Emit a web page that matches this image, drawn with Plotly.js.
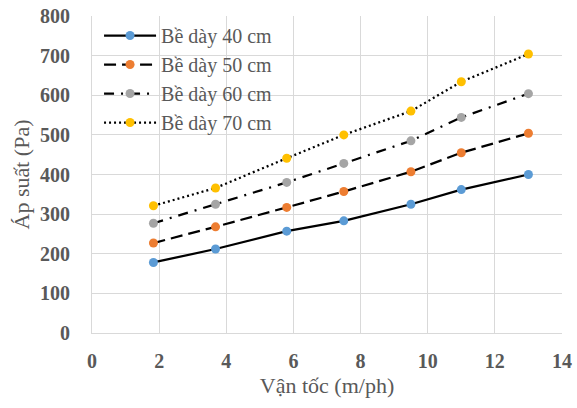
<!DOCTYPE html>
<html>
<head>
<meta charset="utf-8">
<script src="https://cdn.plot.ly/plotly-3.0.1.min.js"></script>
<style>html,body{margin:0;padding:0;background:#fff;}#chart{width:577px;height:408px;}</style>
</head>
<body>
<div id="chart"></div>
<script>
var velocity = [1.83, 3.68, 5.8, 7.5, 9.5, 11, 13];
var p40 = [178, 212, 257, 283, 325, 362, 400];
var p50 = [227, 268, 317, 357, 407, 455, 504];
var p60 = [277, 325, 380, 428, 485, 544, 604];
var p70 = [321, 366, 441, 500, 560, 634, 704];
var seriesNames = ['Bề dày 40 cm', 'Bề dày 50 cm', 'Bề dày 60 cm', 'Bề dày 70 cm'];
var xTitle = 'Vận tốc (m/ph)';
var yTitle = 'Áp suất (Pa)';

var markerColors = ['#5B9BD5', '#ED7D31', '#A5A5A5', '#FFC000'];
var dashes = ['solid', '12px,6px', '10px,7px,2px,7px', '2px,3px'];
var ys = [p40, p50, p60, p70];
var traces = ys.map(function (y, i) {
  return {
    x: velocity, y: y, name: seriesNames[i], type: 'scatter', mode: 'lines+markers',
    line: {color: '#000000', width: 2.25, dash: dashes[i]},
    marker: {color: markerColors[i], size: 9}
  };
});
var font = 'Liberation Serif';
var layout = {
  width: 577, height: 408,
  margin: {l: 92, r: 15, t: 16, b: 75},
  paper_bgcolor: '#fff', plot_bgcolor: '#fff',
  font: {family: font, color: '#595959', size: 20},
  showlegend: true,
  legend: {x: 0.015, y: 1.0, xanchor: 'left', yanchor: 'top', bgcolor: 'rgba(0,0,0,0)',
    font: {family: font, size: 20, color: '#595959'}, tracegroupgap: 0, itemwidth: 52},
  xaxis: {range: [0, 14], dtick: 2, tick0: 0, showgrid: true, gridcolor: '#D9D9D9', gridwidth: 1,
    zeroline: false, showline: true, linecolor: '#D9D9D9', mirror: false,
    ticks: '', ticklabelstandoff: 10,
    tickfont: {family: font, size: 20, color: '#595959', weight: 'bold'},
    title: {text: xTitle, font: {family: font, size: 22, color: '#595959'}, standoff: 6}},
  yaxis: {range: [0, 800], dtick: 100, tick0: 0, showgrid: true, gridcolor: '#D9D9D9', gridwidth: 1,
    zeroline: false, showline: true, linecolor: '#D9D9D9',
    ticks: '', ticklabelstandoff: 17,
    tickfont: {family: font, size: 20, color: '#595959', weight: 'bold'},
    title: {text: yTitle, font: {family: font, size: 22, color: '#595959'}, standoff: 4}}
};
Plotly.newPlot('chart', traces, layout, {displayModeBar: false, staticPlot: true});
</script>
</body>
</html>
